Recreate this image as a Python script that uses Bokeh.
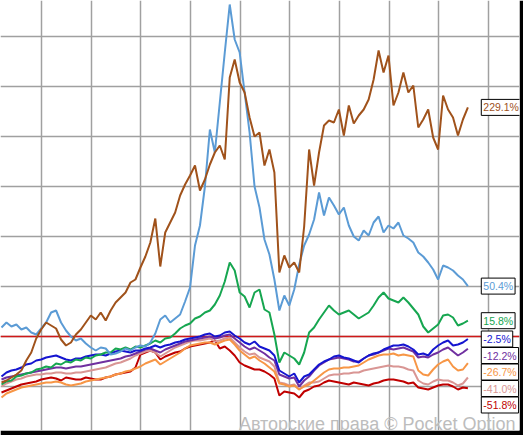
from bokeh.plotting import figure
from bokeh.models import FixedTicker, Label, Range1d
from bokeh.embed import file_html
from bokeh.resources import INLINE

# ---- data (cumulative return, %), one sample per half time-step ----
brown = [-46, -44, -41, -38, -34, -24, -16, -2, 7, 14,
         11, 8, -3, -9, -6, 2, 7, 14, 21, 17,
         24, 16, 26, 34, 39, 44, 54, 57, 69, 80,
         94, 118, 70, 104, 114, 124, 141, 152, 161, 171,
         146, 157, 172, 184, 191, 177, 259, 277, 254, 244,
         219, 200, 204, 171, 187, 164, 64, 81, 69, 74,
         64, 110, 187, 151, 184, 211, 216, 214, 227, 201,
         231, 213, 221, 227, 237, 257, 286, 264, 281, 231,
         244, 264, 244, 251, 209, 217, 227, 199, 187, 241,
         227, 219, 201, 217, 229.1]
lightblue = [9, 14, 10, 12, 7, 9, 4, 2, 8, 14,
             24, 26, 14, 6, 0, -4, -2, -7, -11, -14,
             -11, -12, -18, -17, -15, -12, -14, -11, -9, -10,
             -6, 3, 17, 21, 14, 18, 22, 35, 49, 91,
             111, 150, 207, 184, 234, 284, 332, 297, 284, 244,
             204, 150, 129, 97, 82, 57, 26, 41, 31, 47,
             72, 91, 102, 117, 144, 121, 139, 131, 122, 129,
             111, 100, 96, 106, 101, 114, 120, 104, 111, 108,
             114, 101, 98, 94, 84, 80, 74, 67, 57, 71,
             69, 66, 61, 57, 50.4]
green = [-48, -45, -44, -40, -39, -37, -36, -33, -32, -30,
         -31, -27, -28, -25, -26, -23, -24, -21, -22, -19,
         -18, -16, -16, -12, -13, -11, -13, -10, -11, -9,
         -7, -4, -6, -2, -1, 3, 8, 11, 13, 18,
         20, 24, 26, 32, 41, 55, 74, 66, 44, 40,
         29, 44, 47, 27, 24, 2, -26, -16, -19, -22,
         -28, -16, 4, 9, 17, 24, 31, 26, 22, 24,
         26, 22, 18, 21, 24, 31, 39, 44, 38, 36,
         34, 39, 34, 28, 22, 10, 4, 8, 12, 21,
         22, 19, 11, 13, 15.8]
blue = [-40, -36, -34, -33, -31, -28, -27, -24, -23, -21,
        -20, -19, -21, -23, -24, -22, -22, -20, -19, -18,
        -18, -19, -17, -15, -14, -15, -16, -14, -14, -12,
        -11, -9, -11, -9, -8, -6, -5, -3, -2, -1,
        0, 2, 3, 0, 1, 4, 5, 1, -2, -6,
        -8, -5, -10, -12, -14, -19, -34, -37, -40, -37,
        -46, -40, -38, -33, -28, -25, -23, -20, -19, -21,
        -22, -24, -26, -22, -19, -17, -16, -13, -11, -9,
        -9, -8, -10, -13, -18, -17, -19, -13, -9, -6,
        -4, -9, -8, -6, -2.5]
purple = [-43, -41, -40, -39, -38, -37, -36, -35, -34, -33,
          -32, -31, -31, -32, -31, -30, -30, -29, -28, -27,
          -26, -25, -24, -23, -22, -20, -19, -17, -15, -13,
          -12, -14, -16, -13, -11, -9, -7, -5, -4, -3,
          -2, -1, 0, -2, -1, 1, 2, -2, -6, -10,
          -13, -11, -14, -17, -21, -24, -38, -40, -42, -41,
          -50, -44, -40, -34, -29, -26, -23, -22, -21, -22,
          -23, -25, -25, -22, -19, -18, -16, -14, -12, -13,
          -12, -11, -13, -15, -21, -20, -21, -18, -16, -13,
          -11, -15, -19, -16, -12.2]
orange = [-61, -57, -55, -53, -51, -50, -49, -48, -47, -46,
          -46, -45, -46, -48, -49, -48, -47, -45, -44, -43,
          -42, -41, -40, -38, -37, -35, -34, -32, -30, -27,
          -25, -23, -28, -25, -22, -19, -16, -12, -9, -8,
          -7, -6, -6, -8, -6, -4, -3, -8, -14, -18,
          -22, -20, -24, -27, -31, -35, -47, -48, -50, -49,
          -53, -50, -48, -44, -40, -36, -33, -32, -32, -31,
          -31, -30, -29, -26, -23, -21, -19, -18, -18, -17,
          -19, -18, -19, -20, -34, -38, -39, -33, -28, -25,
          -23, -30, -34, -33, -26.7]
pink = [-50, -47, -45, -43, -42, -40, -39, -38, -38, -37,
        -37, -36, -36, -37, -37, -36, -36, -35, -34, -33,
        -32, -31, -29, -27, -26, -24, -22, -19, -17, -15,
        -14, -16, -20, -17, -14, -11, -9, -7, -5, -4,
        -4, -3, -2, -5, -4, -2, -1, -6, -11, -15,
        -18, -17, -21, -23, -25, -30, -46, -47, -49, -48,
        -53, -49, -46, -46, -45, -42, -39, -38, -38, -37,
        -37, -36, -36, -34, -33, -32, -31, -30, -29, -30,
        -30, -31, -33, -34, -44, -47, -48, -45, -43, -44,
        -44, -46, -49, -47, -41.0]
red = [-56, -54, -52, -50, -48, -47, -46, -45, -43, -42,
       -41, -42, -44, -41, -42, -43, -43, -41, -42, -43,
       -43, -41, -40, -38, -37, -36, -35, -31, -18, -16,
       -14, -16, -23, -20, -18, -16, -15, -12, -10, -9,
       -8, -7, -6, -4, -12, -10, -14, -19, -26, -29,
       -31, -33, -33, -35, -38, -42, -59, -55, -56, -57,
       -61, -55, -53, -50, -49, -46, -44, -45, -46, -47,
       -48, -46, -47, -48, -49, -47, -46, -44, -43, -43,
       -44, -45, -47, -46, -51, -52, -53, -51, -49, -48,
       -48, -50, -53, -51, -51.8]

series_names = ["brown", "lightblue", "green", "blue", "purple", "orange", "pink", "red"]
data = {"brown": brown, "lightblue": lightblue, "green": green, "blue": blue,
        "purple": purple, "orange": orange, "pink": pink, "red": red}
colors = {
    "brown": "#A0521B",
    "lightblue": "#5B9BD5",
    "green": "#16A650",
    "blue": "#1515D0",
    "purple": "#7030A0",
    "orange": "#F79646",
    "pink": "#D99694",
    "red": "#C00000",
}

x_grid = [4.05 + 5 * k for k in range(10)]
y_grid = [-50, 0, 50, 100, 150, 200, 250, 300]
watermark = "Авторские права © Pocket Option"

p = figure(width=523, height=435, output_backend="svg", toolbar_location=None,
           x_range=Range1d(-0.1, 52.2), y_range=Range1d(-94, 336),
           x_axis_location=None, y_axis_location=None,
           min_border_left=0, min_border_right=4, min_border_top=0, min_border_bottom=5,
           border_fill_color="black", background_fill_color="white",
           outline_line_color=None)

p.xgrid.ticker = FixedTicker(ticks=x_grid)
p.ygrid.ticker = FixedTicker(ticks=y_grid)
for g in (p.xgrid, p.ygrid):
    g.grid_line_color = "#A0A0A0"
    g.grid_line_width = 1.5

# zero reference line
p.line(x=[-0.1, 52.2], y=[0, 0], line_color="#D01818", line_width=1.6)

draw_order = ["red", "pink", "orange", "purple", "blue", "green", "lightblue", "brown"]
for name in draw_order:
    ys = data[name]
    xs = [i * 0.5 for i in range(len(ys))]
    p.line(x=xs, y=ys, line_color=colors[name], line_width=2)

# end-value labels, stacked to avoid overlap
gap = 16.5
ordered = sorted(series_names, key=lambda n: data[n][-1], reverse=True)
prev = None
for name in ordered:
    v = data[name][-1]
    ly = v if prev is None else min(v, prev - gap)
    prev = ly
    txt = f"{v:.1f}%"
    shadow = Label(x=48.35, y=ly, text=txt, text_align="left", text_baseline="middle",
                   text_font="Liberation Sans", text_font_size="10.5px", text_alpha=0,
                   background_fill_color="#6E6E6E", x_offset=2, y_offset=-2, padding=2)
    p.add_layout(shadow)
    lab = Label(x=48.35, y=ly, text=txt, text_align="left", text_baseline="middle",
                text_font="Liberation Sans", text_font_size="10.5px", text_color=colors[name],
                background_fill_color="white", border_line_color="black", border_line_width=1,
                padding=2)
    p.add_layout(lab)

wm = Label(x=51.8, y=-87, text=watermark, text_align="right", text_baseline="alphabetic",
           text_font="Liberation Sans", text_font_size="18px", text_color="#BDBDBD")
p.add_layout(wm)

open("out.html", "w").write(file_html(p, INLINE))
